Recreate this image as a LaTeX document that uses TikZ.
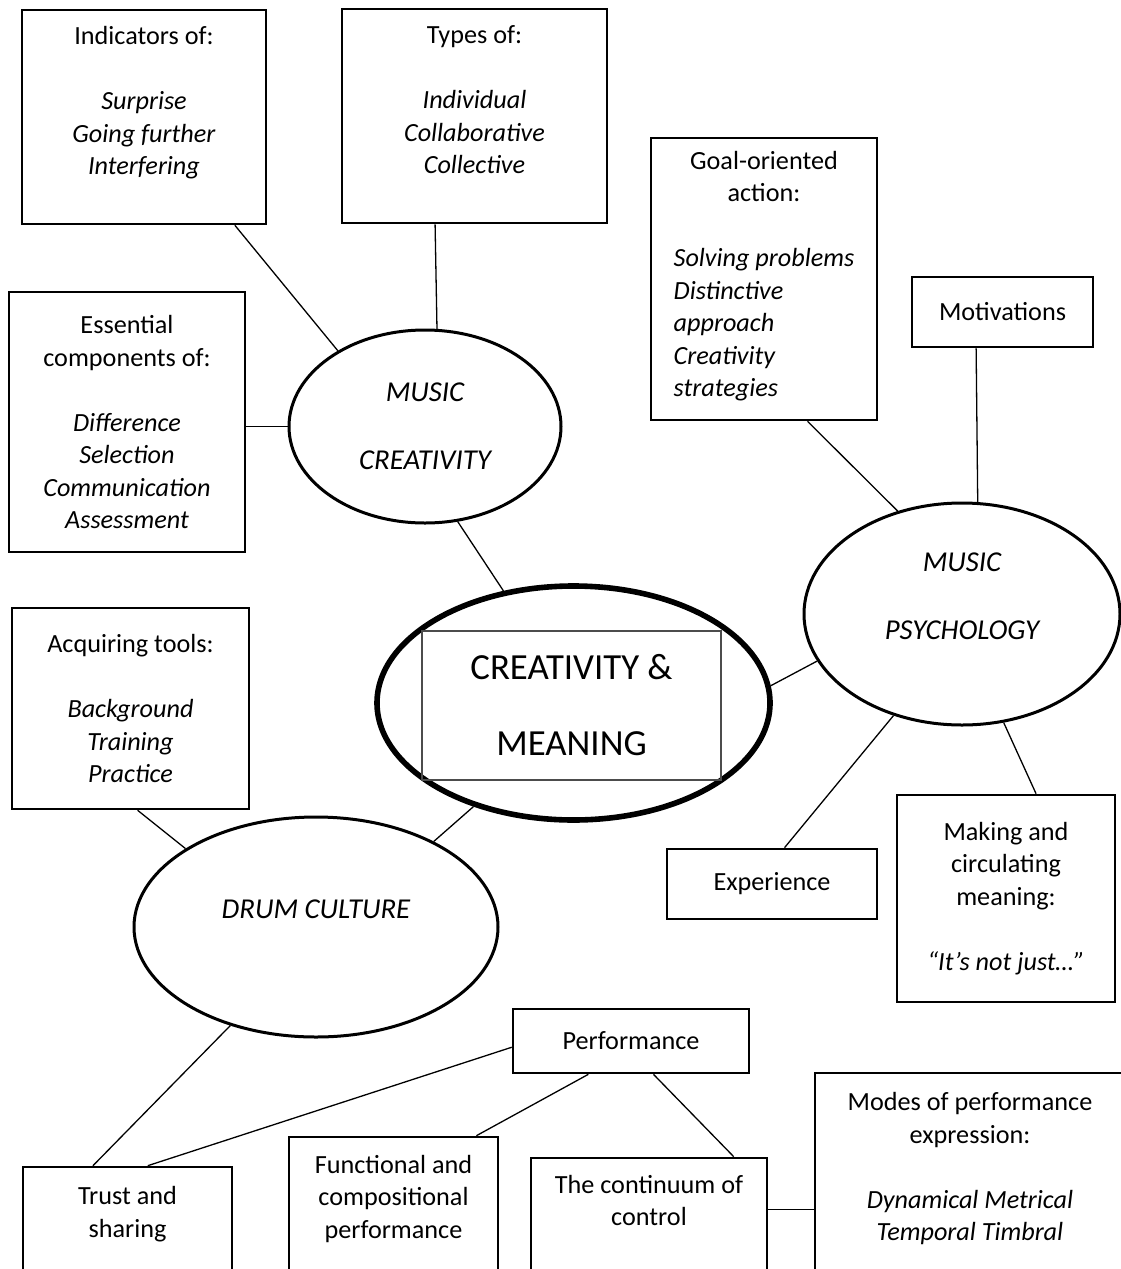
\documentclass[tikz,border=0pt]{standalone}
\usepackage{fontspec}
\setmainfont{Carlito}
\usepackage{tikz}
\usetikzlibrary{shapes.geometric}

\begin{document}
\begin{tikzpicture}[x=1pt, y=-1pt,
  box/.style={draw, rectangle, line width=2.6pt, inner sep=0pt, align=center, font=\fontsize{26.2}{32.5}\selectfont},
  hub/.style={draw, ellipse, line width=3pt, inner sep=0pt, align=center, font=\fontsize{28.8}{35}\selectfont\itshape},
  link/.style={line width=1.3pt}]
\useasboundingbox (0,0) rectangle (1121,1269);
\clip (0,0) rectangle (1121,1269);
\node[draw, ellipse, line width=5.6pt, minimum width=393pt, minimum height=234pt, inner sep=0pt](core) at (573.5,703){};
\node[draw=black!70, line width=1.3pt, minimum width=299pt, minimum height=149pt, inner sep=0pt, align=center, font=\fontsize{36.8}{44}\selectfont](corebox) at (571.5,705.5){CREATIVITY \&\\[32pt]MEANING};
\node[hub, minimum width=272pt, minimum height=193pt](mcr) at (425,426.5){MUSIC\\[33pt]CREATIVITY};
\node[hub, minimum width=316pt, minimum height=222pt](mps) at (962,614){MUSIC\\[33pt]PSYCHOLOGY\\~};
\node[hub, minimum width=364pt, minimum height=220pt](drum) at (316,927){DRUM CULTURE\\~};
\node[box, minimum width=244pt, minimum height=214pt](ind) at (144,117){Indicators of:\\[\baselineskip]\textit{Surprise}\\\textit{Going further}\\\textit{Interfering}\\~};
\node[box, minimum width=265pt, minimum height=214pt](typ) at (474.5,116){Types of:\\[\baselineskip]\textit{Individual}\\\textit{Collaborative}\\\textit{Collective}\\~};
\node[box, minimum width=236pt, minimum height=260pt](ess) at (127,422){Essential\\components of:\\[\baselineskip]\textit{Difference}\\\textit{Selection}\\\textit{Communication}\\\textit{Assessment}};
\node[box, minimum width=237pt, minimum height=201pt](acq) at (130.5,708.5){Acquiring tools:\\[\baselineskip]\textit{Background}\\\textit{Training}\\\textit{Practice}};
\node[box, minimum width=226pt, minimum height=282pt](goal) at (764,279){Goal-oriented\\action:\\[\baselineskip]\itshape\begin{tabular}[t]{@{}l@{}}Solving problems\\Distinctive\\approach\\Creativity\\strategies\end{tabular}};
\node[box, minimum width=181pt, minimum height=70pt](mot) at (1002.5,312){Motivations};
\node[box, minimum width=210pt, minimum height=70pt](exp) at (772,884){Experience};
\node[box, minimum width=218pt, minimum height=207pt](mak) at (1006,898.5){Making and\\circulating\\meaning:\\[\baselineskip]\textit{“It’s not just…”}};
\node[box, minimum width=236pt, minimum height=64pt](perf) at (631,1041){Performance};
\node[box, minimum width=209pt, minimum height=122pt](tru) at (127.5,1228){Trust and\\sharing\\~};
\node[box, minimum width=209pt, minimum height=152pt](fun) at (393.5,1213){Functional and\\compositional\\performance\\~};
\node[box, minimum width=236pt, minimum height=150pt](con) at (649,1233){The continuum of\\control\\~\\~};
\node[box, minimum width=310pt, minimum height=220pt](mod) at (970,1183){Modes of performance\\expression:\\[\baselineskip]\textit{Dynamical Metrical}\\\textit{Temporal Timbral}\\~};
\draw[link] (ind.-50.3) -- (mcr.139.5);
\draw[link] (typ.-110.7) -- (mcr.83.5);
\draw[link] (mcr.west) -- (mcr.west -| ess.east);
\draw[link] (mcr.-71.7) -- (core.122.4);
\draw[link] (goal.-73.8) -- (mps.122.5);
\draw[link] (mot.-126.1) -- (mps.82.3);
\draw[link] (core.5.9) -- (mps.198.1);
\draw[link] (mps.-124.1) -- (exp.71.1);
\draw[link] (mps.-69.6) -- (mak.74.9);
\draw[link] (acq.-86.3) -- (drum.149.6);
\draw[link] (core.226) -- (drum.36.6);
\draw[link] (drum.-131.9) -- (tru.119.5);
\draw[link] (perf.183) -- (tru.72.3);
\draw[link] (perf.-142.7) -- (fun.43);
\draw[link] (perf.-56.7) -- (con.42.4);
\draw[link] (con.11.5) -- (con.11.5 -| mod.west);
\end{tikzpicture}
\end{document}
